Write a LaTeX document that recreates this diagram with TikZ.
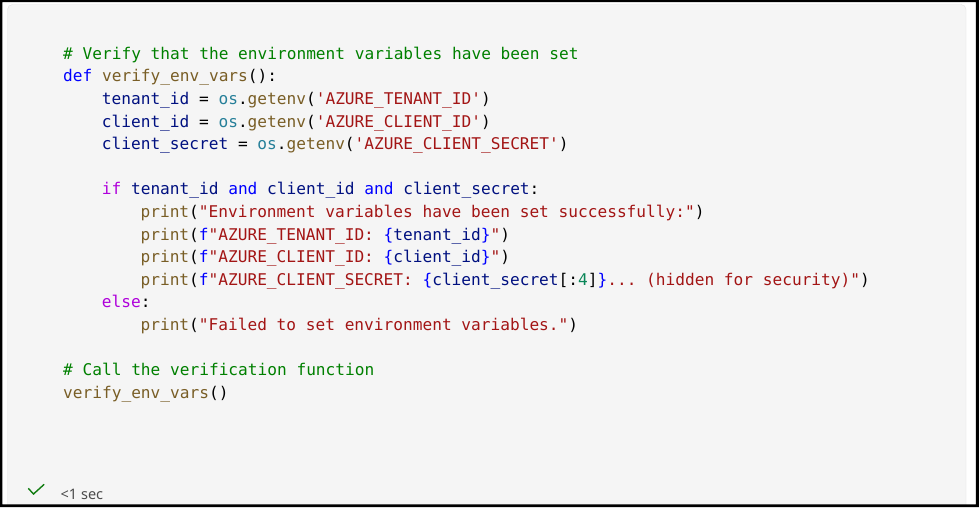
\documentclass[tikz,border=0pt]{standalone}
\usepackage{fontspec}
\setmainfont{Noto Sans}
\setmonofont{DejaVu Sans Mono}
\usetikzlibrary{positioning}
\frenchspacing

\definecolor{cmtgreen}{HTML}{008000}
\definecolor{kwblue}{HTML}{0000FF}
\definecolor{funbrown}{HTML}{795E26}
\definecolor{varblue}{HTML}{001080}
\definecolor{clsteal}{HTML}{267F99}
\definecolor{strred}{HTML}{A31515}
\definecolor{ctlpurple}{HTML}{AF00DB}
\definecolor{numgreen}{HTML}{098658}
\definecolor{cellgray}{HTML}{F5F5F5}
\definecolor{edgegray}{HTML}{E3E3E3}
\definecolor{checkgreen}{HTML}{107C10}

\newcommand{\cmt}[1]{\textcolor{cmtgreen}{#1}}
\newcommand{\kw}[1]{\textcolor{kwblue}{#1}}
\newcommand{\fn}[1]{\textcolor{funbrown}{#1}}
\newcommand{\vr}[1]{\textcolor{varblue}{#1}}
\newcommand{\cls}[1]{\textcolor{clsteal}{#1}}
\newcommand{\str}[1]{\textcolor{strred}{#1}}
\newcommand{\ctl}[1]{\textcolor{ctlpurple}{#1}}
\newcommand{\num}[1]{\textcolor{numgreen}{#1}}

\tikzset{
    codeline/.style={anchor=base west, inner sep=0pt, font=\ttfamily\fontsize{16.15}{18}\selectfont},
}

\begin{document}
\begin{tikzpicture}[x=1pt, y=-1pt]
    \useasboundingbox (0,0) rectangle (979,507);
    \fill[white] (0,0) rectangle (979,507);

    % cell panel
    \begin{scope}
        \clip (0,0) rectangle (979,504.5);
        \draw[edgegray, fill=cellgray, rounded corners=5pt] (7.5,4.5) rectangle (966,520);
    \end{scope}

    % outer frame
    \fill[black, even odd rule] (0,0) rectangle (979,507) (2.3,2.2) rectangle (975.8,504.3);

    % code
    \node[codeline] (l0) at (63, 59.3) {\cmt{\# Verify that the environment variables have been set}};
    \node[codeline] (l1) at (63, 81.9) {\kw{def} \fn{verify\_env\_vars}():};
    \node[codeline] (l2) at (101.7, 104.5) {\vr{tenant\_id} = \cls{os}.\fn{getenv}(\str{'AZURE\_TENANT\_ID'})};
    \node[codeline] (l3) at (101.7, 127.1) {\vr{client\_id} = \cls{os}.\fn{getenv}(\str{'AZURE\_CLIENT\_ID'})};
    \node[codeline] (l4) at (101.7, 149.7) {\vr{client\_secret} = \cls{os}.\fn{getenv}(\str{'AZURE\_CLIENT\_SECRET'})};

    \node[codeline] (l6) at (101.7, 194.9) {\ctl{if} \vr{tenant\_id} \kw{and} \vr{client\_id} \kw{and} \vr{client\_secret}:};
    \node[codeline] (l7) at (140.4, 217.5) {\fn{print}(\str{"Environment variables have been set successfully:"})};
    \node[codeline] (l8) at (140.4, 240.1) {\fn{print}(\kw{f}\str{"AZURE\_TENANT\_ID: }\kw{\{}\vr{tenant\_id}\kw{\}}\str{"})};
    \node[codeline] (l9) at (140.4, 262.7) {\fn{print}(\kw{f}\str{"AZURE\_CLIENT\_ID: }\kw{\{}\vr{client\_id}\kw{\}}\str{"})};
    \node[codeline] (l10) at (140.4, 285.3) {\fn{print}(\kw{f}\str{"AZURE\_CLIENT\_SECRET: }\kw{\{}\vr{client\_secret}[:\num{4}]\kw{\}}\str{... (hidden for security)"})};
    \node[codeline] (l11) at (101.7, 307.9) {\ctl{else}:};
    \node[codeline] (l12) at (140.4, 330.5) {\fn{print}(\str{"Failed to set environment variables."})};

    \node[codeline] (l14) at (63, 375.7) {\cmt{\# Call the verification function}};
    \node[codeline] (l15) at (63, 398.3) {\fn{verify\_env\_vars}()};

    % status
    \draw[checkgreen, line width=1.4pt] (28.3,488.3) coordinate (tick) -- (33.5,494) -- (44.2,484.3);
    \node[anchor=base west, inner sep=0pt, text=black!70, font=\fontsize{14.5}{16}\selectfont] (time) at (60.5,499) {<1 sec};
\end{tikzpicture}
\end{document}
